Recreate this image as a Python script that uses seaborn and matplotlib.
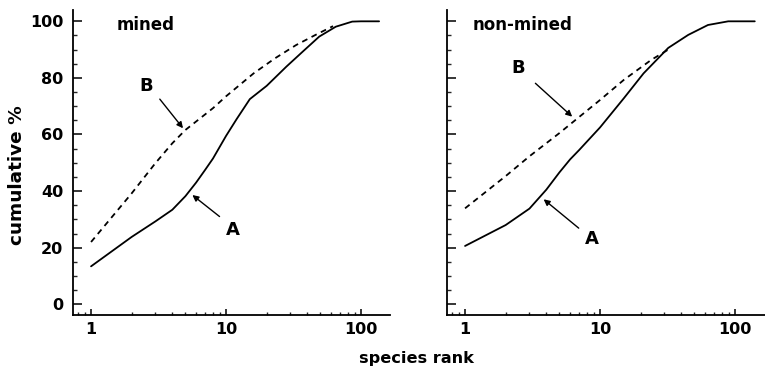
import matplotlib
matplotlib.use("Agg")
import matplotlib.pyplot as plt
import seaborn as sns
import pandas as pd
from matplotlib.ticker import LogLocator, FixedLocator, NullFormatter

# Cumulative dominance curves (species rank vs cumulative %)
mined_rank_A = [1, 2, 3, 4, 5, 6, 7, 8, 10, 12, 15, 20, 28, 37, 49, 65, 86, 100, 136]
mined_cum_A = [13.4, 23.8, 29.3, 33.4, 38.2, 43.0, 47.5, 51.5, 59.5, 65.5, 72.5, 77.2,
               84.0, 89.3, 94.6, 98.1, 99.9, 100.0, 100.0]
mined_rank_B = [1, 2, 3, 4, 5, 8, 10, 16, 23, 33, 46, 62]
mined_cum_B = [22.0, 39.2, 49.9, 56.9, 61.6, 69.3, 73.5, 81.6, 86.9, 91.6, 95.2, 98.3]

nonmined_rank_A = [1, 2, 3, 4, 5, 6, 7, 8, 10, 15, 21, 32, 45, 63, 89, 140]
nonmined_cum_A = [20.6, 28.0, 33.8, 40.5, 46.6, 51.2, 54.5, 57.5, 62.5, 72.8, 81.6,
                  90.6, 95.2, 98.7, 100.0, 100.0]
nonmined_rank_B = [1, 2, 3, 5, 10, 15, 24, 32]
nonmined_cum_B = [33.9, 45.3, 52.3, 60.5, 72.2, 79.3, 86.4, 90.0]

panel_titles = ["mined", "non-mined"]
y_ticks = [0, 20, 40, 60, 80, 100]
x_ticks = [1, 10, 100]


def curve_frame(rank_a, cum_a, rank_b, cum_b):
    return pd.concat([
        pd.DataFrame({"rank": rank_a, "cum": cum_a, "curve": "A"}),
        pd.DataFrame({"rank": rank_b, "cum": cum_b, "curve": "B"}),
    ], ignore_index=True)


frames = [
    curve_frame(mined_rank_A, mined_cum_A, mined_rank_B, mined_cum_B),
    curve_frame(nonmined_rank_A, nonmined_cum_A, nonmined_rank_B, nonmined_cum_B),
]

# annotation anchors: (label text pos, arrow tail, arrow tip) in data coords
annotations = [
    {"B": ((2.58, 77.1), (3.23, 72.5), (4.8, 62.2)),
     "A": ((11.2, 26.3), (8.95, 31.0), (5.63, 38.6))},
    {"B": ((2.49, 83.4), (3.32, 78.1), (6.22, 66.3)),
     "A": ((8.76, 23.0), (6.95, 26.9), (3.82, 37.1))},
]

sns.set_theme(style="ticks")
plt.rcParams["font.family"] = ["DejaVu Sans"]
plt.rcParams["font.weight"] = "bold"

W, H = 765, 369
fig = plt.figure(figsize=(W / 100, H / 100), dpi=100)
fig.patch.set_facecolor("white")

axes_px = [(73, 10, 317, 305), (447, 10, 318, 305)]

for i, (df, title) in enumerate(zip(frames, panel_titles)):
    x0, top, w, h = axes_px[i]
    ax = fig.add_axes([x0 / W, (H - top - h) / H, w / W, h / H])
    ax.set_facecolor("white")
    sns.lineplot(data=df, x="rank", y="cum", style="curve",
                 dashes={"A": "", "B": (3.2, 2.6)}, color="black",
                 linewidth=1.3, legend=False, ax=ax, estimator=None, sort=False)
    ax.set_xscale("log")
    ax.set_xlim(0.735, 0.735 * 10 ** (w / 135.0))
    ax.set_ylim(-3.8, 104.0)
    for s in ["top", "right"]:
        ax.spines[s].set_visible(False)
    for s in ["left", "bottom"]:
        ax.spines[s].set_linewidth(1.3)
        ax.spines[s].set_color("black")

    ax.yaxis.set_major_locator(FixedLocator(y_ticks))
    ax.yaxis.set_minor_locator(FixedLocator(range(0, 101, 5)))
    ax.xaxis.set_major_locator(FixedLocator(x_ticks))
    ax.xaxis.set_minor_locator(LogLocator(base=10, subs=range(2, 10)))
    ax.xaxis.set_minor_formatter(NullFormatter())
    ax.set_xticklabels([str(t) for t in x_ticks])
    if i == 0:
        ax.set_yticklabels([str(t) for t in y_ticks])
    else:
        ax.set_yticklabels([])

    ax.tick_params(axis="y", which="major", direction="in", length=6.5, width=1.1,
                   pad=7, labelsize=11.5, colors="black")
    ax.tick_params(axis="y", which="minor", direction="in", length=3, width=1.0)
    ax.tick_params(axis="x", which="major", direction="in", length=4.5, width=1.1,
                   pad=5.2, labelsize=11.5, colors="black")
    ax.tick_params(axis="x", which="minor", direction="in", length=2.5, width=1.0)
    for lab in ax.get_xticklabels() + ax.get_yticklabels():
        lab.set_fontweight("bold")

    ax.set_xlabel("")
    ax.set_ylabel("")
    ax.text(0.139 if i == 0 else 0.081, 0.951, title, transform=ax.transAxes,
            ha="left", va="center", fontsize=12, fontweight="bold", color="black")

    for key, (txt, tail, tip) in annotations[i].items():
        ax.text(*txt, key, ha="center", va="center", fontsize=13,
                fontweight="bold", color="black")
        ax.annotate("", xy=tip, xytext=tail,
                    arrowprops=dict(arrowstyle="-|>", color="black", lw=1.0,
                                    mutation_scale=9, shrinkA=0, shrinkB=0))

fig.text(17.5 / W, 1 - 175 / H, "cumulative %", rotation=90, ha="center",
         va="center", fontsize=13.3, fontweight="bold", color="black")
fig.text(416 / W, 1 - 363.5 / H, "species rank", ha="center", va="baseline",
         fontsize=11.6, fontweight="bold", color="black")

fig.savefig("out.png", dpi=100, facecolor="white")
